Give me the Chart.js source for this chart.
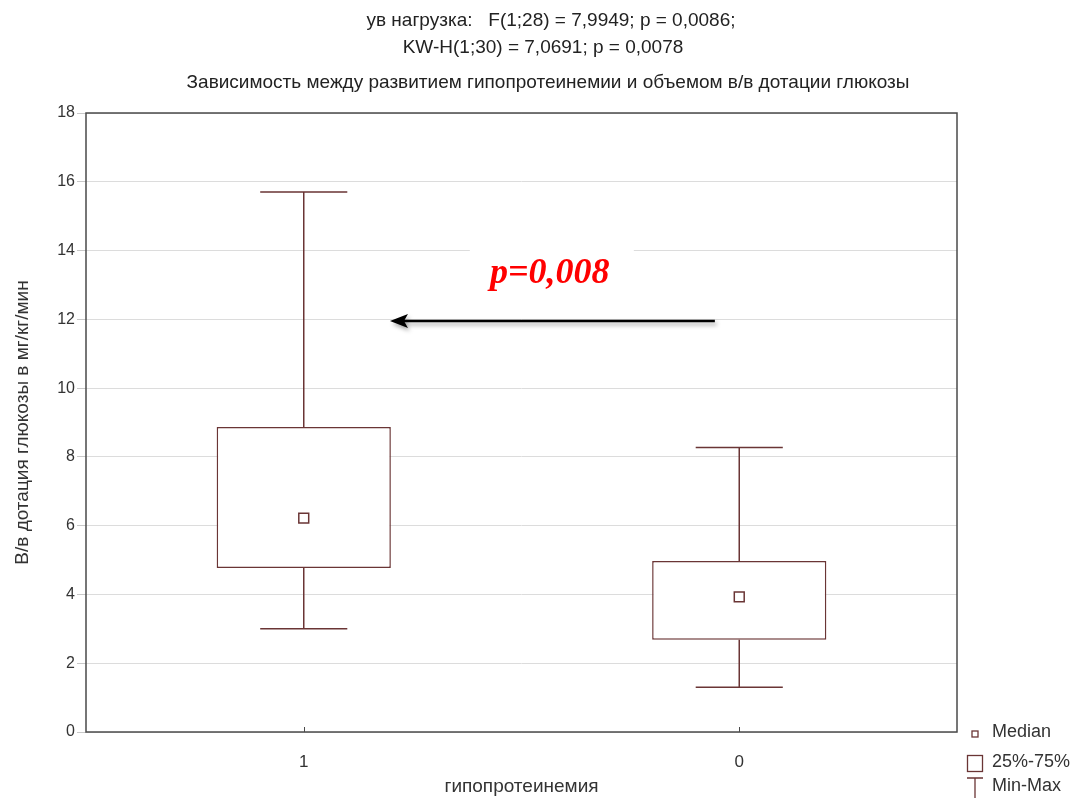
<!DOCTYPE html>
<html>
<head>
<meta charset="utf-8">
<script src="https://cdn.jsdelivr.net/npm/chart.js@4.4.1/dist/chart.umd.min.js"></script>
<style>
  html, body { margin: 0; padding: 0; background: #fff; }
  #wrap { width: 1076px; height: 798px; }
</style>
</head>
<body>
<div id="wrap"><canvas id="boxChart"></canvas></div>
<script>
// группы: гипопротеинемия 1 / 0
const categories = ['1', '0'];
const q1Values = [4.77, 2.68];
const q3Values = [8.87, 4.97];
const medianValues = [6.22, 3.93];
const minValues = [3.0, 1.3];
const maxValues = [15.7, 8.27];

const titleLines = [
  'ув нагрузка:   F(1;28) = 7,9949; p = 0,0086;',
  'KW-H(1;30) = 7,0691; p = 0,0078'
];
const subTitle = 'Зависимость между развитием гипопротеинемии и объемом в/в дотации глюкозы';
const yTitle = 'В/в дотация глюкозы в мг/кг/мин';
const xTitle = 'гипопротеинемия';
const pLabel = 'p=0,008';
const legendItems = ['Median', '25%-75%', 'Min-Max'];

// annotation anchors in data units (x = category index)
const arrowFrom = { x: 0.944, y: 11.95 };
const arrowTo = { x: 0.198, y: 11.95 };
const pLabelAt = { x: 0.565, y: 13.06 };

const boxColor = '#6a3535';
const FONT = "'Liberation Sans', Arial, sans-serif";

const frameAndWhiskers = {
  id: 'frameAndWhiskers',
  beforeDatasetsDraw(chart) {
    const { ctx, scales: { x, y } } = chart;
    const boxes = chart.getDatasetMeta(0).data;
    ctx.save();
    ctx.strokeStyle = boxColor;
    ctx.lineWidth = 1.5;
    categories.forEach((c, i) => {
      const cx = x.getPixelForValue(i);
      const half = boxes[i].width / 4;
      ctx.beginPath();
      ctx.moveTo(cx, y.getPixelForValue(q3Values[i]));
      ctx.lineTo(cx, y.getPixelForValue(maxValues[i]));
      ctx.moveTo(cx - half, y.getPixelForValue(maxValues[i]));
      ctx.lineTo(cx + half, y.getPixelForValue(maxValues[i]));
      ctx.moveTo(cx, y.getPixelForValue(q1Values[i]));
      ctx.lineTo(cx, y.getPixelForValue(minValues[i]));
      ctx.moveTo(cx - half, y.getPixelForValue(minValues[i]));
      ctx.lineTo(cx + half, y.getPixelForValue(minValues[i]));
      ctx.stroke();
    });
    ctx.restore();
  },
  afterDatasetsDraw(chart) {
    const { ctx, chartArea: a, scales: { x, y } } = chart;
    ctx.save();
    // p label with white backing
    const px = x.getPixelForValue(pLabelAt.x);
    const py = y.getPixelForValue(pLabelAt.y);
    ctx.fillStyle = '#fff';
    ctx.fillRect(px - 80, py - 40, 164, 56);
    ctx.font = "italic bold 36px 'Liberation Serif', 'Times New Roman', serif";
    ctx.fillStyle = '#ff0000';
    ctx.textAlign = 'center';
    ctx.textBaseline = 'alphabetic';
    ctx.fillText(pLabel, px, py);

    // arrow
    const x0 = x.getPixelForValue(arrowFrom.x), y0 = y.getPixelForValue(arrowFrom.y);
    const x1 = x.getPixelForValue(arrowTo.x), y1 = y.getPixelForValue(arrowTo.y);
    ctx.shadowColor = 'rgba(0,0,0,0.35)';
    ctx.shadowBlur = 4;
    ctx.shadowOffsetX = 2;
    ctx.shadowOffsetY = 3;
    ctx.strokeStyle = '#000';
    ctx.fillStyle = '#000';
    ctx.lineWidth = 2.5;
    ctx.beginPath();
    ctx.moveTo(x0, y0);
    ctx.lineTo(x1 + 12, y1);
    ctx.stroke();
    ctx.beginPath();
    ctx.moveTo(x1, y1);
    ctx.lineTo(x1 + 18, y1 - 7);
    ctx.lineTo(x1 + 14, y1);
    ctx.lineTo(x1 + 18, y1 + 7);
    ctx.closePath();
    ctx.fill();
    ctx.restore();

    // plot frame and inward x ticks
    ctx.save();
    ctx.strokeStyle = '#4a4a4a';
    ctx.lineWidth = 1.5;
    ctx.strokeRect(a.left, a.top, a.right - a.left, a.bottom - a.top);
    ctx.lineWidth = 1;
    categories.forEach((c, i) => {
      const cx = Math.round(x.getPixelForValue(i)) + 0.5;
      ctx.beginPath();
      ctx.moveTo(cx, a.bottom);
      ctx.lineTo(cx, a.bottom - 5);
      ctx.stroke();
    });
    ctx.restore();
  },
  afterDraw(chart) {
    const { ctx } = chart;
    ctx.save();
    // header lines
    ctx.fillStyle = '#222';
    ctx.font = '19px ' + FONT;
    ctx.textAlign = 'center';
    ctx.textBaseline = 'middle';
    ctx.fillText(titleLines[0], 551, 21);
    ctx.fillText(titleLines[1], 543, 48);
    ctx.fillText(subTitle, 548, 83);

    // legend
    ctx.textAlign = 'left';
    ctx.font = '18px ' + FONT;
    ctx.fillStyle = '#333';
    ctx.fillText(legendItems[0], 992, 732);
    ctx.fillText(legendItems[1], 992, 762);
    ctx.fillText(legendItems[2], 992, 786);
    ctx.strokeStyle = boxColor;
    ctx.lineWidth = 1.3;
    ctx.strokeRect(972, 731, 6, 6);
    ctx.strokeRect(967.5, 755.5, 15, 16);
    ctx.beginPath();
    ctx.moveTo(967, 778);
    ctx.lineTo(983, 778);
    ctx.moveTo(975, 778);
    ctx.lineTo(975, 798);
    ctx.stroke();
    ctx.restore();
  }
};

new Chart(document.getElementById('boxChart'), {
  type: 'bar',
  data: {
    labels: categories,
    datasets: [
      {
        label: '25%-75%',
        data: q1Values.map((v, i) => [v, q3Values[i]]),
        backgroundColor: '#fff',
        borderColor: boxColor,
        borderWidth: 1.5,
        borderSkipped: false,
        barPercentage: 0.4,
        categoryPercentage: 1.0,
        order: 2
      },
      {
        type: 'line',
        label: 'Median',
        data: medianValues,
        showLine: false,
        pointStyle: 'rect',
        pointRadius: 7,
        pointHoverRadius: 7,
        pointBackgroundColor: '#fff',
        pointBorderColor: boxColor,
        pointBorderWidth: 1.5,
        order: 1
      }
    ]
  },
  options: {
    responsive: true,
    maintainAspectRatio: false,
    animation: false,
    layout: { padding: { top: 113, right: 119, left: 0, bottom: 0 } },
    plugins: {
      legend: { display: false },
      tooltip: { enabled: false }
    },
    scales: {
      x: {
        grid: { display: false },
        border: { display: false },
        ticks: { color: '#333', font: { family: FONT, size: 17 }, padding: 12 },
        title: {
          display: true,
          text: xTitle,
          color: '#333',
          font: { family: FONT, size: 19 },
          padding: { top: 0, bottom: 0 }
        },
        afterFit(scale) { scale.height = 66; }
      },
      y: {
        min: 0,
        max: 18,
        grid: { color: '#dcdcdc', tickColor: '#c8c8c8', tickLength: 9 },
        border: { display: false },
        ticks: { stepSize: 2, color: '#333', font: { family: FONT, size: 16 }, padding: 2 },
        title: {
          display: true,
          text: yTitle,
          color: '#333',
          font: { family: FONT, size: 19 },
          padding: { top: 11, bottom: 0 }
        },
        afterFit(scale) { scale.width = 86; }
      }
    }
  },
  plugins: [frameAndWhiskers]
});
</script>
</body>
</html>
